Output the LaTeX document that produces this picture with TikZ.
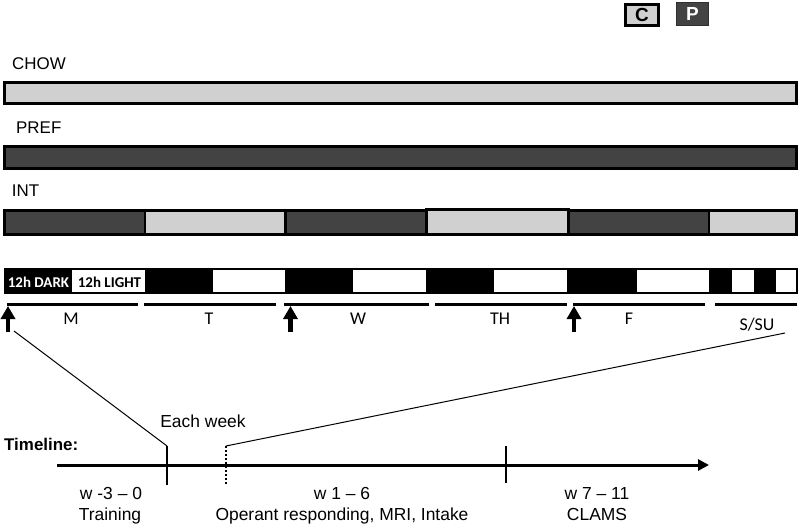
\documentclass[tikz,border=0pt]{standalone}
\usepackage{fontspec}
\setmainfont{Liberation Sans}
\newfontfamily\calfont{Carlito}
\usetikzlibrary{arrows.meta}
\definecolor{lgray}{HTML}{D0D0D0}
\definecolor{dgray}{HTML}{434343}
\begin{document}
\begin{tikzpicture}[x=1bp,y=-1bp,
  barbox/.style={draw=black,line width=2.8bp},
  lab/.style={font=\fontsize{17}{20}\selectfont,inner sep=0pt,anchor=base west},
  daylab/.style={font=\calfont\fontsize{18}{21}\selectfont,inner sep=0pt,anchor=base},
  dayline/.style={line width=3bp},
  upar/.style={line width=4.5bp,-{Triangle[length=13bp,width=14bp]}},
  tl/.style={font=\fontsize{17.5}{21}\selectfont,inner sep=0pt,anchor=base},
  thinline/.style={line width=1bp},
  ldbox/.style={draw=black,line width=1.5bp},
  tick/.style={line width=2.6bp}]
\useasboundingbox (0,0) rectangle (800,525);
% legend
\node[draw=black,line width=3bp,fill=lgray,minimum width=33bp,minimum height=21bp,inner sep=0pt,
  font=\bfseries\fontsize{19}{20}\selectfont] (legC) at (642,15) {C};
\node[draw=dgray!70!black,line width=1bp,fill=dgray,text=white,minimum width=32bp,minimum height=23bp,inner sep=0pt,
  font=\bfseries\fontsize{19}{20}\selectfont] (legP) at (692.5,14) {P};
% labels
\node[lab] (chow) at (12,69.3) {CHOW};
\node[lab] (pref) at (16,133.3) {PREF};
\node[lab] (int) at (11.7,196.7) {INT};
% bars
\filldraw[barbox,fill=lgray] (4.5,82.5) rectangle (796.5,103.5);
\filldraw[barbox,fill=dgray] (4.5,146.5) rectangle (796.5,168.5);
\filldraw[barbox,fill=dgray] (4.5,210.5) rectangle (145,234.5);
\filldraw[barbox,fill=lgray] (145,210.5) rectangle (285.5,234.5);
\filldraw[barbox,fill=dgray] (285.5,210.5) rectangle (426.5,234.5);
\filldraw[barbox,fill=lgray] (426.5,209.5) rectangle (568.5,234.5);
\filldraw[barbox,fill=dgray] (568.5,210.5) rectangle (709,234.5);
\filldraw[barbox,fill=lgray] (709,210.5) rectangle (796.5,234.5);
% light/dark bar
\fill[black] (4.5,268.8) rectangle (72,293.2);
\fill[black] (145.5,268.8) rectangle (213,293.2);
\fill[black] (286,268.8) rectangle (353,293.2);
\fill[black] (427,268.8) rectangle (494,293.2);
\fill[black] (568,268.8) rectangle (637,293.2);
\fill[black] (709.5,268.8) rectangle (732,293.2);
\fill[black] (754,268.8) rectangle (776,293.2);
\draw[ldbox] (4.5,268.8) rectangle (145.5,293.2);
\draw[ldbox] (145.5,268.8) rectangle (286,293.2);
\draw[ldbox] (286,268.8) rectangle (427,293.2);
\draw[ldbox] (427,268.8) rectangle (568,293.2);
\draw[ldbox] (568,268.8) rectangle (709.5,293.2);
\draw[ldbox] (709.5,268.8) rectangle (797,293.2);
\node[font=\calfont\bfseries\fontsize{15}{18}\selectfont,text=white,inner sep=0pt,anchor=base] (dark) at (38.5,287.3) {12h DARK};
\node[font=\calfont\bfseries\fontsize{15}{18}\selectfont,inner sep=0pt,anchor=base] (light) at (109.5,287.3) {12h LIGHT};
% day lines
\draw[dayline] (7,304.5) -- (138,304.5);
\draw[dayline] (144,304.5) -- (276,304.5);
\draw[dayline] (284,304.5) -- (429,304.5);
\draw[dayline] (435,304.5) -- (567,304.5);
\draw[dayline] (573,304.5) -- (705,304.5);
\draw[dayline] (715,304.5) -- (797,304.5);
\node[daylab] (dM) at (71,324.5) {M};
\node[daylab] (dT) at (209,324.5) {T};
\node[daylab] (dW) at (358,324.5) {W};
\node[daylab] (dTH) at (500,324.5) {TH};
\node[daylab] (dF) at (629,324.5) {F};
\node[daylab] (dS) at (757,330) {S/SU};
% up arrows
\coordinate (a1b) at (8,332);
\coordinate (a1t) at (8,306);
\coordinate (a2b) at (290.5,332);
\coordinate (a2t) at (290.5,306);
\coordinate (a3b) at (574,332);
\coordinate (a3t) at (574,306);
\draw[upar] (a1b) -- (a1t);
\draw[upar] (a2b) -- (a2t);
\draw[upar] (a3b) -- (a3t);
% timeline
\node[font=\bfseries\fontsize{17}{20}\selectfont,inner sep=0pt,anchor=base west] (tlab) at (4,450) {Timeline:};
\coordinate (ax0) at (57,465);
\coordinate (ax1) at (709,465);
\draw[line width=3bp,-{Triangle[length=11bp,width=11bp]}] (ax0) -- (ax1);
\coordinate (t1top) at (167,446);
\coordinate (t1bot) at (167,485);
\coordinate (t2top) at (226,446);
\coordinate (t2bot) at (226,486);
\coordinate (t3top) at (506,446);
\coordinate (t3bot) at (506,483);
\draw[tick] (t1top) -- (t1bot);
\draw[tick,dash pattern=on 2bp off 2bp] (t2top) -- (t2bot);
\draw[tick] (t3top) -- (t3bot);
% connectors
\coordinate (lstart) at (14,331);
\coordinate (rend) at (785,333);
\draw[thinline] (lstart) -- (t1top);
\draw[thinline] (t2top) -- (rend);
% texts
\node[tl] (each) at (203,427) {Each week};
\node[tl] (w1) at (111,499) {w -3 – 0};
\node[tl] (w1b) at (110,520) {Training};
\node[tl] (w2) at (342,499) {w 1 – 6};
\node[tl] (w2b) at (342,520) {Operant responding, MRI, Intake};
\node[tl] (w3) at (597,499) {w 7 – 11};
\node[tl] (w3b) at (597,520) {CLAMS};
\end{tikzpicture}
\end{document}
